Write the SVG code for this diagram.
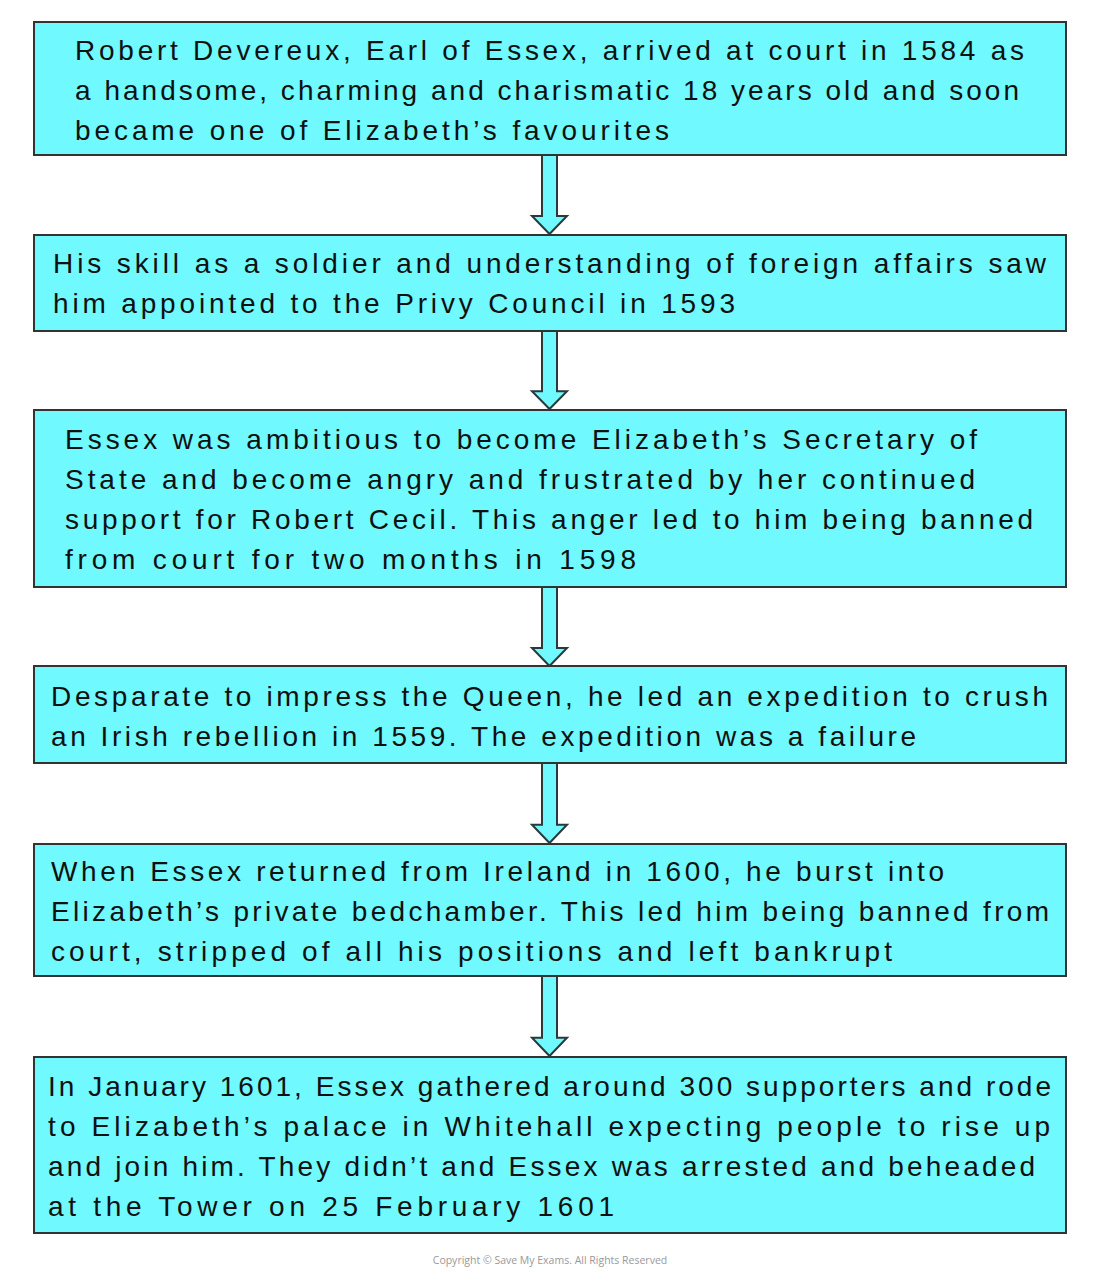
<svg xmlns="http://www.w3.org/2000/svg" xmlns:xlink="http://www.w3.org/1999/xlink" width="1100" height="1274" viewBox="0 0 1100 1274">
<style>
.box{fill:#70F9FE;stroke:#333;stroke-width:2}
.t{font-family:"Liberation Sans","DejaVu Sans",sans-serif;font-size:28px;fill:#111}
.arr{fill:#70F9FE;stroke:#2a3a3a;stroke-width:2;stroke-linejoin:miter}
.copy{font-family:"Open Sans","Liberation Sans",sans-serif;font-size:10.5px;fill:#999}
</style>
<defs>
<path id="arrow" class="arr" d="M-7.5,0 H7.5 V-19 H17.5 L0,0 Z"/>
<polygon id="ah" points="-7.5,0 7.5,0 7.5,61 17.5,61 0,79 -17.5,61 -7.5,61"/>
</defs>
<rect width="1100" height="1274" fill="#fff"/>
<g id="connectors">
<use xlink:href="#ah" class="arr" transform="translate(549.5,155)"/>
<use xlink:href="#ah" class="arr" transform="translate(549.5,331) scale(1,0.987)"/>
<use xlink:href="#ah" class="arr" transform="translate(549.5,587)"/>
<use xlink:href="#ah" class="arr" transform="translate(549.5,763) scale(1,1.013)"/>
<use xlink:href="#ah" class="arr" transform="translate(549.5,976) scale(1,1.013)"/>
</g>
<g id="node1">
<rect class="box" x="34" y="22" width="1032" height="133"/>
<text class="t" x="75" y="60" textLength="949" lengthAdjust="spacing">Robert Devereux, Earl of Essex, arrived at court in 1584 as</text>
<text class="t" x="75" y="100" textLength="944" lengthAdjust="spacing">a handsome, charming and charismatic 18 years old and soon</text>
<text class="t" x="75" y="140" textLength="594" lengthAdjust="spacing">became one of Elizabeth’s favourites</text>
</g>
<g id="node2">
<rect class="box" x="34" y="235" width="1032" height="96"/>
<text class="t" x="53" y="273" textLength="993" lengthAdjust="spacing">His skill as a soldier and understanding of foreign affairs saw</text>
<text class="t" x="53" y="313" textLength="682" lengthAdjust="spacing">him appointed to the Privy Council in 1593</text>
</g>
<g id="node3">
<rect class="box" x="34" y="410" width="1032" height="177"/>
<text class="t" x="65" y="449" textLength="912" lengthAdjust="spacing">Essex was ambitious to become Elizabeth’s Secretary of</text>
<text class="t" x="65" y="489" textLength="910" lengthAdjust="spacing">State and become angry and frustrated by her continued</text>
<text class="t" x="65" y="529" textLength="968" lengthAdjust="spacing">support for Robert Cecil. This anger led to him being banned</text>
<text class="t" x="65" y="569" textLength="571" lengthAdjust="spacing">from court for two months in 1598</text>
</g>
<g id="node4">
<rect class="box" x="34" y="666" width="1032" height="97"/>
<text class="t" x="51" y="706" textLength="997" lengthAdjust="spacing">Desparate to impress the Queen, he led an expedition to crush</text>
<text class="t" x="51" y="746" textLength="865" lengthAdjust="spacing">an Irish rebellion in 1559. The expedition was a failure</text>
</g>
<g id="node5">
<rect class="box" x="34" y="844" width="1032" height="132"/>
<text class="t" x="51" y="881" textLength="893" lengthAdjust="spacing">When Essex returned from Ireland in 1600, he burst into</text>
<text class="t" x="51" y="921" textLength="998" lengthAdjust="spacing">Elizabeth’s private bedchamber. This led him being banned from</text>
<text class="t" x="51" y="961" textLength="841" lengthAdjust="spacing">court, stripped of all his positions and left bankrupt</text>
</g>
<g id="node6">
<rect class="box" x="34" y="1057" width="1032" height="176"/>
<text class="t" x="48" y="1096" textLength="1003" lengthAdjust="spacing">In January 1601, Essex gathered around 300 supporters and rode</text>
<text class="t" x="48" y="1136" textLength="1002" lengthAdjust="spacing">to Elizabeth’s palace in Whitehall expecting people to rise up</text>
<text class="t" x="48" y="1176" textLength="987" lengthAdjust="spacing">and join him. They didn’t and Essex was arrested and beheaded</text>
<text class="t" x="48" y="1216" textLength="566" lengthAdjust="spacing">at the Tower on 25 February 1601</text>
</g>
<text class="copy" x="550" y="1264" text-anchor="middle">Copyright © Save My Exams. All Rights Reserved</text>
</svg>
